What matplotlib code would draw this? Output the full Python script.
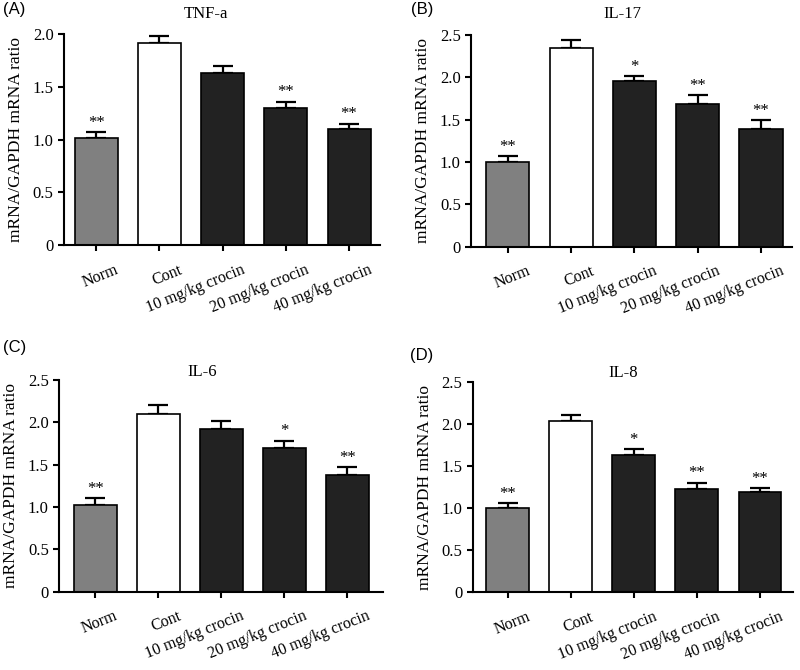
import matplotlib
matplotlib.use('Agg')
import matplotlib.pyplot as plt
from matplotlib.transforms import ScaledTranslation

plt.rcParams['font.family'] = ['Liberation Serif', 'DejaVu Serif']

## data
groups = ['Norm', 'Cont', '10 mg/kg crocin', '20 mg/kg crocin', '40 mg/kg crocin']
bar_colours = ['#808080', '#ffffff', '#222222', '#222222', '#222222']

tnf_mean = [1.02, 1.92, 1.63, 1.30, 1.10]
tnf_err = [0.05, 0.06, 0.07, 0.06, 0.05]
tnf_sig = ['**', '', '', '**', '**']

il17_mean = [1.00, 2.34, 1.95, 1.68, 1.39]
il17_err = [0.07, 0.10, 0.06, 0.11, 0.10]
il17_sig = ['**', '', '*', '**', '**']

il6_mean = [1.02, 2.10, 1.92, 1.69, 1.38]
il6_err = [0.08, 0.10, 0.10, 0.09, 0.09]
il6_sig = ['**', '', '', '*', '**']

il8_mean = [1.00, 2.04, 1.63, 1.23, 1.19]
il8_err = [0.06, 0.07, 0.07, 0.07, 0.05]
il8_sig = ['**', '', '*', '**', '**']

titles = ['TNF-a', 'IL-17', 'IL-6', 'IL-8']
letters = ['(A)', '(B)', '(C)', '(D)']
y_tops = [2.0, 2.5, 2.5, 2.5]

## layout (figure fractions)
boxes = [[0.080, 0.634, 0.395, 0.315],
         [0.589, 0.632, 0.401, 0.316],
         [0.074, 0.117, 0.405, 0.316],
         [0.591, 0.116, 0.400, 0.314]]
xlims = [(-0.51, 4.49), (-0.58, 4.49), (-0.57, 4.57), (-0.55, 4.52)]
title_x = [0.45, 0.47, 0.44, 0.47]
title_pad = [11.5, 12.0, 2.5, 3.5]
letter_pos = [(0.004, 0.997), (0.514, 0.997), (0.004, 0.493), (0.512, 0.481)]

panels = [(tnf_mean, tnf_err, tnf_sig), (il17_mean, il17_err, il17_sig),
          (il6_mean, il6_err, il6_sig), (il8_mean, il8_err, il8_sig)]

fig = plt.figure(figsize=(8, 6.7), dpi=100)

for k, (means, errs, sigs) in enumerate(panels):
    ax = fig.add_axes(boxes[k])
    x = list(range(len(groups)))
    ax.bar(x, means, width=0.68, color=bar_colours, edgecolor='black',
           linewidth=1.2, zorder=2)
    ax.errorbar(x, means, yerr=[[0] * len(errs), errs], fmt='none',
                ecolor='black', elinewidth=1.6, capsize=7, capthick=1.6,
                zorder=1, clip_on=False)
    for i, s in enumerate(sigs):
        if s:
            ax.annotate(s, (x[i], means[i] + errs[i]), xytext=(0, 1),
                        textcoords='offset points', ha='center', va='bottom',
                        fontsize=12, annotation_clip=False)
    # axes look
    top = y_tops[k]
    yt = [v * 0.5 for v in range(int(top / 0.5) + 1)]
    ax.set_yticks(yt)
    ax.set_yticklabels(['0'] + [f'{v:.1f}' for v in yt[1:]])
    ax.set_ylim(0, top)
    ax.set_xlim(*xlims[k])
    ax.spines['top'].set_visible(False)
    ax.spines['right'].set_visible(False)
    ax.spines['left'].set_linewidth(1.5)
    ax.spines['bottom'].set_linewidth(1.5)
    ax.tick_params(width=1.5, length=4, labelsize=12, direction='out')
    ax.tick_params(axis='x', pad=8, labelsize=11.5)
    ax.set_xticks(x)
    ax.set_xticklabels(groups, rotation=22, ha='right', rotation_mode='anchor')
    shift = ScaledTranslation(0.19, 0, fig.dpi_scale_trans)
    for lab in ax.get_xticklabels():
        lab.set_transform(lab.get_transform() + shift)
    ax.set_ylabel('mRNA/GAPDH mRNA ratio', fontsize=12.5, labelpad=6)
    ax.set_title(titles[k], fontsize=12, x=title_x[k], pad=title_pad[k])
    fig.text(letter_pos[k][0], letter_pos[k][1], letters[k], fontsize=12,
             family='Liberation Sans', ha='left', va='top')

fig.savefig('out.png', dpi=100)
